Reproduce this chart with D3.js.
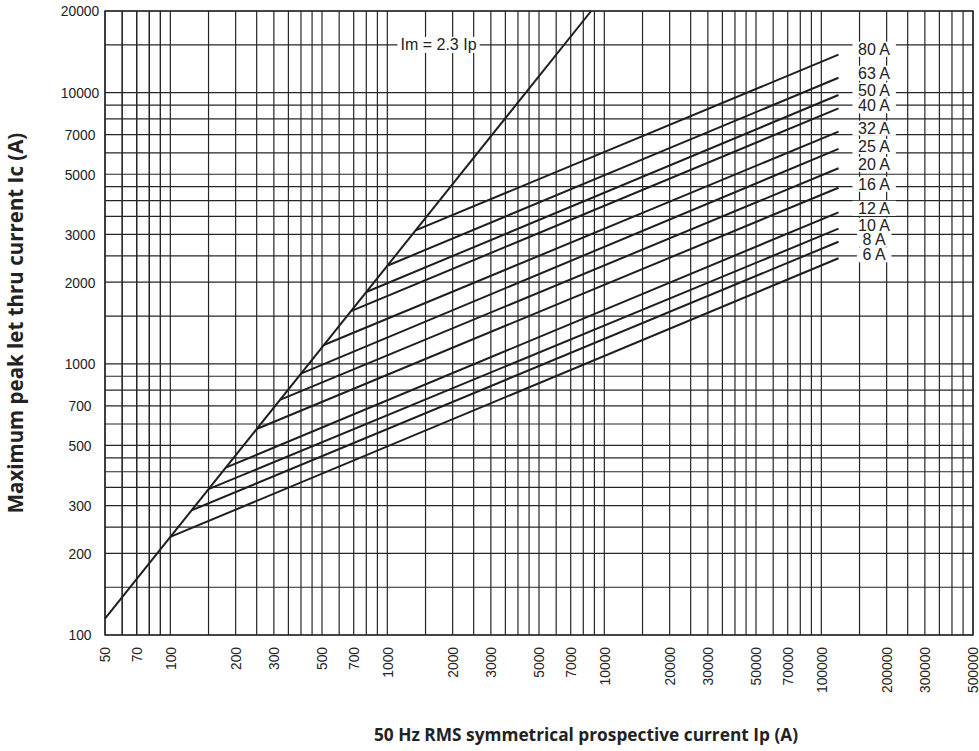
<!DOCTYPE html>
<html>
<head>
<meta charset="utf-8">
<script src="https://cdn.jsdelivr.net/npm/d3@7"></script>
<style>
  html, body { margin: 0; padding: 0; background: #fff; }
  svg { display: block; }
</style>
</head>
<body>
<svg id="chart" width="979" height="751"></svg>
<script>
// ---------------- DATA ----------------
// Rated currents of the curves (labels)
const ratings = ["80 A", "63 A", "50 A", "40 A", "32 A", "25 A", "20 A", "16 A", "12 A", "10 A", "8 A", "6 A"];
// Knee point on the Im = 2.3 Ip line: prospective current Ip (A)
const kneeIp = [1350, 1000, 800, 680, 510, 400, 320, 250, 180, 150, 125, 100];
// Knee point peak let-through current Ic (A)
const kneeIc = [3105, 2300, 1840, 1564, 1173, 920, 736, 575, 414, 345, 288, 230];
// End of each curve: prospective current Ip (A)
const endIp = [120000, 120000, 120000, 120000, 120000, 120000, 120000, 120000, 120000, 120000, 120000, 120000];
// End of each curve: peak let-through current Ic (A)
const endIc = [13800, 11350, 9800, 8750, 7180, 6200, 5260, 4460, 3620, 3150, 2820, 2450];
// Im = 2.3 Ip line end points
const imLineIp = [50, 8696];
const imLineIc = [115, 20000];
const imLabel = "Im = 2.3 Ip";
const imLabelIp = 1150, imLabelIc = 15000;

// Axis ticks
const xTickLabels = [50, 70, 100, 200, 300, 500, 700, 1000, 2000, 3000, 5000, 7000, 10000, 20000, 30000, 50000, 70000, 100000, 200000, 300000, 500000];
const yTickLabels = [100, 200, 300, 500, 700, 1000, 2000, 3000, 5000, 7000, 10000, 20000];
const gridMantissas = [1, 1.5, 2, 2.5, 3, 3.5, 4, 4.5, 5, 6, 7, 8, 9];

const xTitle = "50 Hz RMS symmetrical prospective current Ip (A)";
const yTitle = "Maximum peak let thru current Ic (A)";

// ---------------- LAYOUT ----------------
const W = 979, H = 751;
const L = 105, R = 973, T = 11, B = 635;
const svg = d3.select("#chart");

const x = d3.scaleLog().domain([50, 500000]).range([L, R]);
const y = d3.scaleLog().domain([100, 20000]).range([B, T]);

function gridValues(lo, hi) {
  const out = [];
  for (let e = 1; e <= 6; e++) {
    for (const m of gridMantissas) {
      const v = Math.round(m * Math.pow(10, e));
      if (v >= lo && v <= hi) out.push(v);
    }
  }
  return out;
}
const xGrid = [60, 70, 80, 90].concat(gridValues(50, 500000)).sort((a, b) => a - b);
const yGrid = gridValues(100, 20000);

const gridColor = "#262626";
const g = svg.append("g");

// Grid
g.append("g").selectAll("line").data(xGrid).join("line")
  .attr("x1", d => x(d)).attr("x2", d => x(d))
  .attr("y1", T).attr("y2", B)
  .attr("stroke", gridColor).attr("stroke-width", 1.2);
g.append("g").selectAll("line").data(yGrid).join("line")
  .attr("x1", L).attr("x2", R)
  .attr("y1", d => y(d)).attr("y2", d => y(d))
  .attr("stroke", gridColor).attr("stroke-width", 1.2);

// Frame
g.append("rect").attr("x", L).attr("y", T).attr("width", R - L).attr("height", B - T)
  .attr("fill", "none").attr("stroke", gridColor).attr("stroke-width", 1.4);

// Axes (labels only, via d3 axes)
const xAxis = d3.axisBottom(x).tickValues(xTickLabels).tickFormat(d3.format("d")).tickSize(0);
const xa = g.append("g").attr("transform", `translate(0,${B})`).call(xAxis);
xa.select(".domain").remove();
xa.selectAll("text")
  .attr("transform", "rotate(-90)")
  .attr("text-anchor", "end")
  .attr("x", -12).attr("y", 0).attr("dy", "0.35em")
  .attr("font-family", "'Liberation Sans', Arial, sans-serif")
  .attr("font-size", 13.8).attr("fill", "#222");

const yAxis = d3.axisLeft(y).tickValues(yTickLabels).tickFormat(d3.format("d")).tickSize(0);
const ya = g.append("g").attr("transform", `translate(${L},0)`).call(yAxis);
ya.select(".domain").remove();
ya.selectAll("text")
  .attr("text-anchor", "middle")
  .attr("x", -25).attr("dy", "0.35em")
  .attr("font-family", "'Liberation Sans', Arial, sans-serif")
  .attr("font-size", 13.8).attr("fill", "#222");

// Curves
const line = d3.line().x(d => x(d[0])).y(d => y(d[1]));
const curveColor = "#1e1e1e";
g.append("path")
  .attr("d", line([[imLineIp[0], imLineIc[0]], [imLineIp[1], imLineIc[1]]]))
  .attr("fill", "none").attr("stroke", curveColor).attr("stroke-width", 2);
g.append("g").selectAll("path").data(ratings).join("path")
  .attr("d", (d, i) => line([[kneeIp[i], kneeIc[i]], [endIp[i], endIc[i]]]))
  .attr("fill", "none").attr("stroke", curveColor).attr("stroke-width", 2);

// Labels with white boxes
const labelFont = "'Liberation Sans', Arial, sans-serif";
function boxedLabel(parent, tx, ty, text, anchor, padX, padY) {
  const grp = parent.append("g");
  const rect = grp.append("rect").attr("fill", "#fff");
  const t = grp.append("text")
    .attr("x", tx).attr("y", ty).attr("dy", "0.35em")
    .attr("text-anchor", anchor)
    .attr("font-family", labelFont).attr("font-size", 16).attr("fill", "#222")
    .text(text);
  const bb = t.node().getBBox();
  rect.attr("x", bb.x - padX).attr("width", bb.width + 2 * padX)
    .attr("y", ty - 7.5 - padY).attr("height", 15 + 2 * padY);
}
const labelX = 874;
const labelNudge = [-2, -1, -1.5, 1, 0, 1, -0.5, 0, -0.5, 0, 1, 0];
ratings.forEach((r, i) => {
  boxedLabel(g, labelX, y(endIc[i]) - 3.5 + labelNudge[i], r, "middle", 5.5, 0);
});
boxedLabel(g, x(imLabelIp), y(imLabelIc), imLabel, "start", 3, 0.5);

// Titles
svg.append("text")
  .attr("x", 586).attr("y", 735).attr("dy", "0.35em")
  .attr("text-anchor", "middle")
  .attr("font-family", "'Open Sans', 'Noto Sans', sans-serif")
  .attr("font-weight", 700).attr("font-size", 17.3).attr("fill", "#222")
  .text(xTitle);
svg.append("text")
  .attr("transform", "translate(16,323) rotate(-90)")
  .attr("dy", "0.35em")
  .attr("text-anchor", "middle")
  .attr("font-family", "'Open Sans', 'Noto Sans', sans-serif")
  .attr("font-weight", 700).attr("font-size", 20.5).attr("fill", "#222")
  .text(yTitle);
</script>
</body>
</html>
